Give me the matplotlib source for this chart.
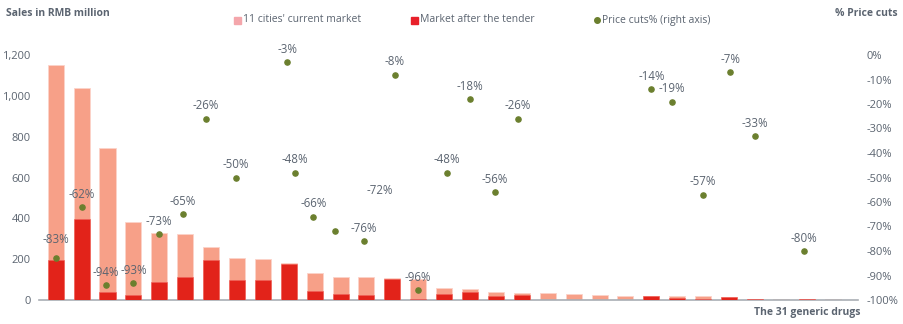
import matplotlib
matplotlib.use("Agg")
import matplotlib.pyplot as plt
import numpy as np
from matplotlib.lines import Line2D
from matplotlib.patches import Rectangle

plt.rcParams["font.family"] = ["Open Sans", "DejaVu Sans"]

# sales per drug, RMB million
current_market = [1150, 1040, 745, 380, 328, 322, 258, 204, 199, 180, 134, 111, 111, 109, 101,
                  59, 54, 41, 34, 34, 29, 23, 18, 18, 18, 18, 13, 4, 4, 4, 4]
after_tender = [195, 395, 41, 24, 88, 111, 194, 100, 100, 175, 46, 29, 23, 101, 5,
                29, 41, 18, 24, 0, 0, 0, 0, 18, 11, 5, 13, 4, 0, 4, 0]

# price cuts, placed along the drug axis
cut_pos = [0, 1, 1.95, 3, 4, 4.9, 5.8, 6.95, 8.95, 9.25, 9.95, 10.8, 11.9, 13.1, 14,
           15.1, 16, 16.95, 17.85, 23, 23.8, 25, 26.05, 27, 28.9]
cut_pct = [-83, -62, -94, -93, -73, -65, -26, -50, -3, -48, -66, -72, -76, -8, -96,
           -48, -18, -56, -26, -14, -19, -57, -7, -33, -80]

left_ticks = [0, 200, 400, 600, 800, 1000, 1200]
right_ticks = list(range(-100, 1, 10))

LIGHT = "#f7a088"
RED = "#e2231a"
GREEN = "#6b7f2e"
GREY = "#5b6470"

fig = plt.figure(figsize=(9.04, 3.24), dpi=100)
ax = fig.add_axes([39 / 904, 24 / 324, 819 / 904, 245 / 324])

x = np.arange(len(current_market))
ax.bar(x, current_market, width=0.62, color=LIGHT, edgecolor="#fcd3ca", linewidth=0.6, zorder=2)
ax.bar(x, after_tender, width=0.62, color=RED, edgecolor="#f0605a", linewidth=0.4, zorder=3)

ax.set_xlim(-0.645, 30.98)
ax.set_ylim(0, 1200)
ax.set_xticks([])
ax.set_yticks(left_ticks)
ax.set_yticklabels([f"{v:,}" for v in left_ticks])
ax.tick_params(axis="y", length=0, pad=6, labelsize=8, labelcolor=GREY)
for side in ["top", "right", "left"]:
    ax.spines[side].set_visible(False)
ax.spines["bottom"].set_color("#a9aeb4")
ax.spines["bottom"].set_linewidth(1.2)

ax2 = ax.twinx()
ax2.set_ylim(-100, 0)
ax2.set_yticks(right_ticks)
ax2.set_yticklabels([f"{v}%" for v in right_ticks])
ax2.tick_params(axis="y", length=0, pad=6, labelsize=8, labelcolor=GREY)
for side in ax2.spines:
    ax2.spines[side].set_visible(False)

ax2.scatter(cut_pos, cut_pct, s=14, color=GREEN, zorder=5)
label_offsets = {0: (0, 9), 11: (32, 25)}
for i, (px, pv) in enumerate(zip(cut_pos, cut_pct)):
    dx, dy = label_offsets.get(i, (0, 4.5))
    ax2.annotate(f"{pv}%", (px, pv), xytext=(dx, dy), textcoords="offset points",
                 ha="center", va="bottom", fontsize=8.3, color=GREY, zorder=6,
                 annotation_clip=False)

fig.text(6 / 904, 1 - 14 / 324, "Sales in RMB million", fontsize=7.5, fontweight="bold",
         color=GREY, va="center", ha="left")
fig.text(898 / 904, 1 - 14 / 324, "% Price cuts", fontsize=7.5, fontweight="bold",
         color=GREY, va="center", ha="right")
fig.text(861 / 904, 1 - 312 / 324, "The 31 generic drugs", fontsize=7.5, fontweight="bold",
         color=GREY, va="center", ha="right")

# legend row
ly = 1 - 20 / 324
for sx, col, txt in [(234, "#f4a6ab", "11 cities' current market"),
                     (411, "#e8202a", "Market after the tender")]:
    fig.add_artist(Rectangle((sx / 904, ly - 3.5 / 324), 7 / 904, 7 / 324,
                             transform=fig.transFigure, color=col))
    fig.text((sx + 9) / 904, ly, txt, fontsize=7.5, color=GREY, va="center", ha="left")
fig.add_artist(Line2D([597 / 904], [ly], marker="o", markersize=4, color=GREEN,
                      transform=fig.transFigure))
fig.text(602 / 904, ly, "Price cuts% (right axis)", fontsize=7.5, color=GREY,
         va="center", ha="left")

fig.savefig("out.png", dpi=100)
